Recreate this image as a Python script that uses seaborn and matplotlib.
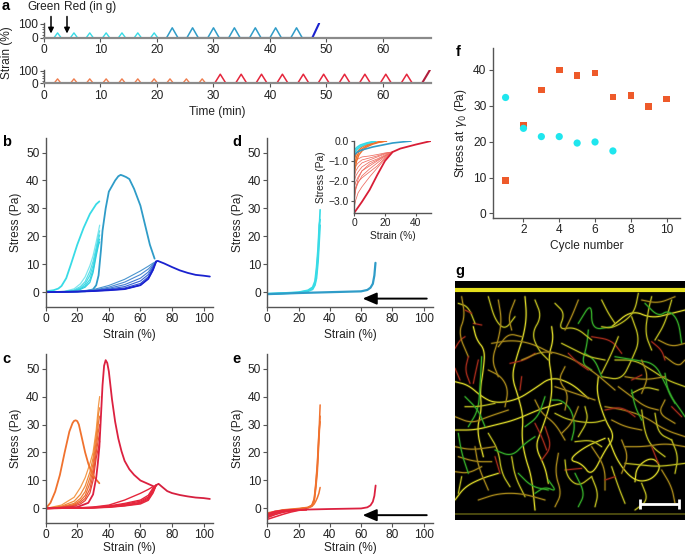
import numpy as np
import pandas as pd
import matplotlib
matplotlib.use("Agg")
import matplotlib.pyplot as plt
from matplotlib.ticker import MultipleLocator, FixedLocator
import seaborn as sns

sns.set_theme(style="ticks")
plt.rcParams["font.family"] = ["Liberation Sans", "DejaVu Sans"]
plt.rcParams["mathtext.fontset"] = "dejavusans"

W, H = 685, 554
FS = 8.6
CYAN, SKY, NAVY = "#38dbe6", "#2f9cc8", "#1a22cf"
ORANGE, RED, CRIM = "#f0722e", "#e5263c", "#b01e3c"
SPINE = "#555555"; TXT = "#222222"

# ---------------- panel a: protocol
a_green_small = [2.4, 5.3, 8.1, 11.0, 13.8, 16.6, 19.5]
a_green_big = [22.7, 26.3, 30.0, 33.7, 37.4, 41.0, 44.7]
a_red_small = [2.4, 5.3, 8.1, 11.0, 13.8, 16.6, 19.5, 22.3, 25.2, 28.0]
a_red_big = [31.2, 34.9, 38.5, 42.2, 45.9, 49.5, 53.2, 56.8, 60.5, 64.2]
a_green_end = ([47.5, 48.7], [0, 105])
a_red_end = ([66.9, 68.3], [0, 105])

# ---------------- panel b: stress-strain, green network
b_first_x = [0, 5, 8, 10, 13, 16, 20, 24, 28, 32, 34]
b_first_y = [0.3, 0.7, 1.3, 2.2, 5, 10, 17, 23, 28, 31.5, 32.5]
b_fam1_x = [0, 12, 18, 22, 25, 28, 30, 32, 33.5, 34.2]
b_fam1_ys = [[0, .3, 1.2, 3, 5.5, 9.5, 13, 18, 22, 24],
             [0, .2, .8, 2, 3.8, 7.5, 11, 16, 20.5, 22],
             [0, .2, .6, 1.5, 3, 6, 9.5, 15, 19, 20.5],
             [0, .1, .5, 1.2, 2.3, 4.5, 8, 14, 18, 19],
             [0, .1, .4, 1, 1.8, 3.5, 7, 13, 17, 18]]
b_fam1_cols = ["#7ee6ee", "#5adfe9", "#48dbe6", "#38d5e4", "#2fd0e0"]
b_peak_x = [0, 25, 30, 32, 33.5, 35, 36, 38, 40, 42, 44, 46, 47.5, 49, 51, 53, 56, 60, 63, 66, 69]
b_peak_y = [0, .3, 1, 2.5, 6, 15, 22, 30, 36, 38, 40, 41.5, 42, 41.7, 41.2, 40.5, 37, 31, 24, 17, 12]
b_fam2_x = [0, 20, 30, 40, 50, 60, 65, 68, 70]
b_fam2_ys = [[0, .3, .9, 2.4, 4.6, 7.6, 9.3, 10.4, 11],
             [0, .3, .7, 1.8, 3.6, 6.3, 8.3, 10, 11],
             [0, .2, .6, 1.4, 2.7, 5, 7.2, 9.6, 11],
             [0, .2, .5, 1.1, 2, 4, 6.3, 9.1, 11],
             [0, .2, .4, .9, 1.5, 3.1, 5.5, 8.6, 11],
             [0, .2, .4, .7, 1.1, 2.5, 4.8, 8, 11]]
b_fam2_cols = ["#4a95cf", "#4a88d0", "#3f78d2", "#3462d4", "#2a48d3", "#1a22cf"]
b_tail_x = [70, 71, 75, 80, 85, 90, 95, 100, 104]
b_tail_y = [11, 11.2, 10.3, 9, 7.8, 6.9, 6.2, 5.9, 5.6]

# ---------------- panel c: stress-strain, red network
c_first_x = [0, 3, 6, 9, 12, 15, 17, 18, 19, 20, 21, 23, 25, 27, 29, 31, 34]
c_first_y = [0, 2, 6, 12, 20, 27.5, 30.5, 31.3, 31.5, 31.2, 30, 25, 20, 16, 13, 11, 9]
c_fam1_x = [0, 10, 18, 22, 25, 28, 30, 32, 33.5, 34.2]
c_fam1_ys = [[0, 1.2, 4, 7.5, 11, 16, 20, 28, 37, 40],
             [0, .8, 2.6, 5, 8, 13, 18, 26, 34, 36],
             [0, .6, 1.8, 3.6, 6, 11, 16, 24, 31, 33],
             [0, .5, 1.4, 2.8, 4.6, 9, 14, 22, 28, 30],
             [0, .4, 1.1, 2.2, 3.6, 7, 12, 20, 25, 27],
             [0, .3, .8, 1.6, 2.8, 5.5, 10, 18, 22, 24]]
c_fam1_cols = ["#f39a4a", "#f08a3a", "#ef7d36", "#ee6e33", "#ea5a33", "#e84434"]
c_peak_x = [0, 20, 27, 30, 32, 33, 34, 35, 36, 37, 38, 39, 40, 42, 44, 46, 48, 50, 53, 56, 60, 64, 68]
c_peak_y = [0, .5, 2, 5, 11, 16, 22, 33, 44, 51, 53, 52, 49, 39, 31, 25, 20.5, 17, 14, 12, 10, 9, 8]
c_fam2_x = [0, 20, 30, 40, 50, 60, 65, 68, 70]
c_fam2_ys = [[0, .2, .5, 1.2, 3, 5.4, 6.8, 7.8, 8.3],
             [0, .2, .4, .9, 1.8, 3, 4.7, 7.3, 8.3],
             [0, .1, .3, .7, 1.5, 2.6, 4.1, 6.8, 8.3],
             [0, .1, .3, .6, 1.2, 2.2, 3.7, 6.3, 8.3],
             [0, .1, .2, .5, 1, 1.9, 3.3, 5.9, 8.3],
             [0, .1, .2, .4, .9, 1.6, 2.9, 5.5, 8.3]]
c_tail_x = [70, 71.5, 74, 77, 80, 85, 90, 95, 100, 104]
c_tail_y = [8.3, 8.8, 7.6, 6.2, 5.5, 4.8, 4.3, 3.9, 3.7, 3.4]

# ---------------- panel d: unloading-corrected curves (green)
d_low_x = [0, 10, 20, 26, 29, 30.5, 31.5, 32.5, 33.2, 33.8]
d_low_ys = [[-.6, -.4, -.1, .5, 1.4, 3, 7, 14, 22, 29.5],
            [-.7, -.5, -.2, .3, 1, 2.5, 5, 11, 18, 24],
            [-.5, -.3, 0, .7, 1.8, 4, 9, 16, 24, 26]]
d_high_x = [0, 20, 40, 60, 64, 66, 67.5, 68.5, 69.2]
d_high_y = [-.7, -.3, 0, .3, .8, 1.6, 3, 6, 10.5]
# ---------------- panel e
e_low_x = [0, 10, 20, 26, 28.5, 30, 31, 32, 33, 33.8]
e_low_ys = [[-2, -.6, -.2, .3, .9, 3, 8, 15, 26, 37],
            [-2.6, -.9, -.2, .3, 1, 2.6, 7, 13, 24, 33],
            [-1.6, -.5, 0, .4, 1.2, 3.5, 9, 16, 27, 31],
            [-3, -1.1, -.3, .2, .7, 1.6, 2.6, 3.8, 5.4, 7.5]]
e_red_x = [0, 5, 10, 15, 20, 25]
e_red_ys = [[-3.9, -3, -2.1, -1.3, -.7, -.4], [-3.3, -2.2, -1.4, -.9, -.6, -.4],
            [-2.8, -1.7, -1.1, -.8, -.5, -.4], [-2.4, -1.4, -.9, -.6, -.5, -.4],
            [-2, -1, -.7, -.5, -.4, -.4]]
e_high_x = [25, 40, 60, 64, 66, 67.5, 68.5, 69.3]
e_high_y = [-.4, -.2, 0, .4, 1.1, 2.4, 4.5, 8.2]

# ---------------- inset of d
ins_red_x = [0, 1, 2.5, 5, 10, 15, 20, 25]
ins_red_ys = [[-3.0, -2.4, -1.9, -1.5, -1.15, -.95, -.75, -.55],
              [-2.8, -2.4, -2.1, -1.75, -1.4, -1.1, -.8, -.55],
              [-2.6, -2.3, -2.05, -1.85, -1.55, -1.25, -.85, -.55],
              [-2.3, -2.05, -1.8, -1.5, -1.25, -1.0, -.75, -.55],
              [-2.0, -1.75, -1.55, -1.3, -1.05, -.9, -.7, -.55],
              [-1.8, -1.5, -1.3, -1.1, -.95, -.8, -.65, -.55],
              [-1.5, -1.25, -1.1, -.95, -.85, -.75, -.62, -.55],
              [-1.2, -1.0, -.9, -.8, -.75, -.68, -.6, -.55],
              [-3.3, -2.95, -2.6, -2.3, -1.8, -1.35, -.9, -.55]]
ins_bold_x = [0, 5, 10, 15, 20, 25, 30, 40, 50]
ins_bold_y = [-3.6, -3.05, -2.45, -1.7, -1.0, -.55, -.38, -.18, 0]
ins_cyan_x = [0, 2, 4, 8, 14]
ins_cyan_ys = [[-.6, -.4, -.28, -.14, 0], [-.45, -.3, -.2, -.1, 0]]
ins_blue_x = [0, 2, 5, 12, 25, 37]
ins_blue_y = [-.7, -.55, -.45, -.3, -.1, 0]
ins_or_x = [0, 1.5, 3, 5, 8, 12, 16, 21]
ins_or_ys = [[-1.6, -1.0, -.7, -.5, -.3, -.16, -.07, 0],
             [-1.2, -.8, -.55, -.4, -.24, -.12, -.05, 0],
             [-.9, -.6, -.45, -.3, -.18, -.1, -.04, 0]]

# ---------------- panel f
f_green_x = [1, 2, 3, 4, 5, 6, 7]
f_green_y = [32.3, 23.7, 21.4, 21.4, 19.6, 19.9, 17.4]
f_red_x = [1, 2, 3, 4, 5, 6, 7, 8, 9, 10]
f_red_y = [9.1, 24.6, 34.4, 40.0, 38.4, 39.1, 32.4, 32.9, 29.8, 31.9]

g_y = "#b5b41f"; g_l = "#d6d228"; g_g = "#33a828"; g_r = "#a02a1a"; g_o = "#a2841a"
g_strands = [
 (g_l, [(85,200),(95,240),(120,270),(115,330),(105,390),(110,450),(95,510),(115,590)]),
 (g_l, [(30,365),(70,375),(110,410),(150,430),(215,420),(270,385),(320,350),(380,370),(430,415)]),
 (g_l, [(240,110),(245,170),(235,230),(215,290),(200,350),(220,410),(235,470),(230,530),(240,590),(260,650),(270,750)]),
 (g_l, [(320,200),(325,240),(310,290),(320,350),(320,420),(290,510),(270,560),(300,620),(310,670)]),
 (g_l, [(30,720),(60,680),(110,655),(160,640)]),
 (g_l, [(30,510),(90,510),(150,495),(210,480),(290,445),(350,430)]),
 (g_l, [(460,350),(455,400),(480,480),(510,530),(480,570),(440,650),(410,610),(370,600),(420,560),(480,535)]),
 (g_y, [(510,300),(570,300),(620,330),(665,360),(720,380)]),
 (g_l, [(490,535),(520,610),(570,665),(620,660),(650,620),(620,590),(575,620),(570,665)]),
 (g_l, [(500,200),(560,150),(620,175),(680,160),(720,150)]),
 (g_g, [(400,190),(440,125),(440,210),(500,200)]),
 (g_y, [(560,170),(585,240),(560,300),(530,360),(470,350)]),
 (g_g, [(510,290),(570,300),(630,310),(660,370),(690,430)]),
 (g_r, [(440,230),(500,240),(530,280)]),
 (g_r, [(620,245),(650,270),(660,300)]),
 (g_r, [(30,265),(45,240),(60,230)]),
 (g_r, [(85,190),(110,195)]),
 (g_r, [(195,310),(240,300),(270,280)]),
 (g_r, [(100,300),(90,345),(85,370)]),
 (g_r, [(30,325),(45,360)]),
 (g_g, [(420,280),(450,300),(470,350)]),
 (g_g, [(430,210),(425,260),(410,310),(440,330)]),
 (g_y, [(130,110),(150,180),(180,210),(210,170)]),
 (g_y, [(40,130),(70,140),(90,190)]),
 (g_g, [(110,290),(105,380),(100,450),(70,500)]),
 (g_o, [(230,300),(300,270),(370,290),(440,330),(510,390)]),
 (g_y, [(330,130),(360,160),(340,210),(390,200),(440,240)]),
 (g_o, [(140,250),(200,240),(260,250),(320,280)]),
 (g_y, [(620,110),(610,150),(600,220),(620,270)]),
 (g_y, [(680,120),(660,190),(630,240)]),
 (g_g, [(660,340),(670,400),(700,440),(720,470)]),
 (g_o, [(480,440),(540,450),(600,470),(660,510),(720,530)]),
 (g_y, [(590,450),(600,520),(620,560),(660,590)]),
 (g_y, [(630,460),(640,520),(680,540)]),
 (g_r, [(480,450),(530,440),(570,470)]),
 (g_r, [(620,560),(640,610)]),
 (g_r, [(360,630),(410,625)]),
 (g_r, [(150,590),(165,640)]),
 (g_r, [(300,500),(320,560),(290,600)]),
 (g_r, [(230,350),(225,390)]),
 (g_y, [(130,520),(160,570),(170,640),(195,680)]),
 (g_y, [(200,590),(210,650),(240,710)]),
 (g_g, [(150,570),(200,590),(240,550),(270,530)]),
 (g_y, [(330,460),(370,480),(440,490),(480,480)]),
 (g_o, [(30,560),(80,570),(150,560)]),
 (g_o, [(30,635),(70,640),(110,620)]),
 (g_o, [(40,590),(90,605),(140,605)]),
 (g_g, [(40,520),(50,580),(70,640)]),
 (g_g, [(310,660),(335,695),(300,680),(270,700)]),
 (g_y, [(360,600),(365,650),(400,680),(440,650)]),
 (g_y, [(440,650),(460,700),(450,740)]),
 (g_o, [(540,560),(600,560),(660,550),(720,560)]),
 (g_y, [(540,610),(590,615),(640,620),(720,610)]),
 (g_o, [(650,630),(680,680),(690,730)]),
 (g_y, [(590,670),(610,720),(570,750)]),
 (g_o, [(100,720),(160,700),(230,700),(300,720)]),
 (g_g, [(390,640),(420,700),(400,740)]),
 (g_y, [(500,620),(520,680),(540,730)]),
 (g_o, [(330,380),(390,400),(450,420)]),
 (g_g, [(320,420),(350,420),(380,450),(390,500),(380,540)]),
 (g_y, [(390,545),(440,540),(470,560)]),
 (g_y, [(60,440),(100,440),(150,430)]),
 (g_o, [(30,470),(80,490),(130,470),(190,450)]),
 (g_g, [(60,410),(100,450),(120,500)]),
 (g_y, [(270,120),(290,170),(260,220),(280,270),(310,300)]),
 (g_y, [(580,100),(570,150),(545,180),(500,205),(470,200)]),
 (g_o, [(160,120),(170,180),(160,240),(140,300),(160,350)]),
 (g_y, [(520,230),(500,280),(470,340)]),
 (g_g, [(600,130),(640,170),(670,150),(700,180),(710,250)]),
 (g_o, [(540,350),(600,360),(660,350)]),
 (g_y, [(560,400),(600,380),(640,390)]),
 (g_y, [(420,440),(430,480),(400,530)]),
 (g_o, [(230,230),(190,220),(160,260)]),
 (g_o, [(50,110),(60,170),(40,220),(70,290)]),
 (g_r, [(70,290),(60,330),(75,370)]),
 (g_o, [(130,330),(170,350),(190,390),(180,440)]),
 (g_y, [(350,250),(390,270),(430,290),(480,300)]),
 (g_r, [(370,280),(400,310),(430,330)]),
 (g_o, [(360,320),(340,360),(370,400),(360,450)]),
 (g_o, [(270,420),(290,460),(330,490),(360,540)]),
 (g_g, [(300,410),(280,470),(240,500)]),
 (g_r, [(270,490),(290,530),(305,570)]),
 (g_o, [(400,440),(380,490),(350,520)]),
 (g_o, [(520,380),(560,410),(600,440),(640,450)]),
 (g_g, [(560,390),(570,440),(590,480)]),
 (g_o, [(660,420),(640,460),(690,490)]),
 (g_r, [(680,440),(710,470)]),
 (g_o, [(500,480),(540,500),(590,510)]),
 (g_o, [(530,540),(550,590),(530,640)]),
 (g_y, [(680,540),(700,590),(690,640)]),
 (g_o, [(90,560),(100,620),(130,690)]),
 (g_y, [(50,650),(40,700)]),
 (g_g, [(220,640),(260,680),(310,690)]),
 (g_o, [(340,580),(330,640),(350,700),(330,740)]),
 (g_o, [(440,560),(480,620),(480,690)]),
 (g_r, [(480,660),(510,650)]),
 (g_o, [(590,120),(640,130),(690,110)]),
 (g_r, [(60,150),(80,160)]),
 (g_o, [(210,120),(190,170),(200,210)]),
 (g_o, [(400,120),(380,170),(360,210)]),
 (g_y, [(470,120),(490,160),(510,190)]),
 (g_o, [(640,240),(680,260),(720,250)]),
 (g_o, [(660,290),(700,320),(720,300)]),
 (g_o, [(590,300),(610,350),(590,400)]),
 (g_r, [(560,360),(590,345)]),
]
g_band_x = [30, 720]
g_band_top = [90, 90]
g_band_bot = [761, 761]
g_bar_x = [584, 702]
g_bar_y = [733, 733]


def rect(l, t, r, b):
    return [l / W, 1 - b / H, (r - l) / W, (b - t) / H]


fig = plt.figure(figsize=(W / 100, H / 100), dpi=100, facecolor="white")


def style(ax, fs=FS, tl=3):
    sns.despine(ax=ax)
    ax.patch.set_alpha(0)
    for s in ("left", "bottom"):
        ax.spines[s].set_color(SPINE)
        ax.spines[s].set_linewidth(1.0)
    ax.tick_params(labelsize=fs, colors=TXT, length=tl, width=.8, pad=1.5, color=SPINE)


def curve(ax, x, y, color, lw=1.0):
    sns.lineplot(x=x, y=y, sort=False, estimator=None, color=color, linewidth=lw,
                 ax=ax, legend=False, solid_capstyle="round")


def triangles(peaks, height, hw, start, end):
    t, s = [start], [0]
    for p in peaks:
        t += [p - hw, p, p + hw]
        s += [0, height, 0]
    t.append(end); s.append(0)
    return t, s


def rounded(pts, n=3):
    """Corner-cut a traced fibre so it draws as a soft curve."""
    p = np.asarray(pts, float)
    for _ in range(n):
        q = np.empty((2 * len(p), 2))
        q[0::2] = .75 * p + .25 * np.roll(p, -1, axis=0)
        q[1::2] = .25 * p + .75 * np.roll(p, -1, axis=0)
        p = np.vstack([p[:1], q[:-2], p[-1:]])
    return p


# ---- a
ax_a1 = fig.add_axes(rect(44, 23.0, 431, 37.7))
ax_a2 = fig.add_axes(rect(44, 69.8, 431, 83.3))
t, s = triangles(a_green_small, 35, .62, 0, 21.8); curve(ax_a1, t, s, CYAN, 1.0)
t, s = triangles(a_green_big, 72, 1.0, 21.8, 47.5); curve(ax_a1, t, s, SKY, 1.1)
curve(ax_a1, a_green_end[0], a_green_end[1], NAVY, 1.5)
t, s = triangles(a_red_small, 35, .62, 0, 30.2); curve(ax_a2, t, s, "#ef7d4e", 1.0)
t, s = triangles(a_red_big, 72, 1.0, 30.2, 66.9); curve(ax_a2, t, s, RED, 1.1)
curve(ax_a2, a_red_end[0], a_red_end[1], CRIM, 1.5)
for ax in (ax_a1, ax_a2):
    style(ax)
    ax.set_xlim(0, 68.5); ax.set_ylim(0, 107)
    ax.xaxis.set_major_locator(MultipleLocator(10))
    ax.set_yticks([0, 100])
    ax.yaxis.set_minor_locator(MultipleLocator(20))
    ax.tick_params(axis="y", which="minor", length=1.5, width=.6, color=SPINE)
    ax.spines["bottom"].set_color("#8a8a8a"); ax.spines["bottom"].set_linewidth(1.6)
    ax.set_xlabel(""); ax.set_ylabel("")
fig.text(7 / W, 1 - 53 / H, "Strain (%)", rotation=90, ha="center", va="center", fontsize=FS, color=TXT)
fig.text(217 / W, 1 - 112 / H, "Time (min)", ha="center", va="center", fontsize=FS, color=TXT)
fig.text(27 / W, 1 - 10 / H, "Green", ha="left", va="baseline", fontsize=FS, color=TXT)
fig.text(64 / W, 1 - 10 / H, "Red (in g)", ha="left", va="baseline", fontsize=FS, color=TXT)
for px in (51, 67):
    ax_a1.annotate("", xy=(px / W, 1 - 33.5 / H), xytext=(px / W, 1 - 16.5 / H), xycoords="figure fraction",
                   textcoords="figure fraction",
                   arrowprops=dict(arrowstyle="-|>", color="black", lw=1.1, mutation_scale=8, shrinkA=0, shrinkB=0))

# ---- b, c, d, e frames
ax_b = fig.add_axes(rect(45.7, 138, 213, 306.7))
ax_c = fig.add_axes(rect(45.7, 354, 213, 523))
ax_d = fig.add_axes(rect(267.3, 138, 433, 306.7))
ax_e = fig.add_axes(rect(267.3, 354, 433, 523))
for ax, pad in ((ax_b, 3), (ax_c, 0.5), (ax_d, 3), (ax_e, 0.5)):
    style(ax)
    ax.set_xlim(0, 106); ax.set_ylim(-5.2, 55.2)
    ax.set_yticks(range(0, 51, 10)); ax.set_xticks(range(0, 101, 20))
    ax.set_xlabel("Strain (%)", fontsize=FS, color=TXT, labelpad=pad)
    ax.set_ylabel("Stress (Pa)", fontsize=FS, color=TXT, labelpad=3)

for ys, c in zip(b_fam1_ys, b_fam1_cols):
    curve(ax_b, b_fam1_x, ys, c, .9)
curve(ax_b, b_first_x, b_first_y, CYAN, 1.3)
curve(ax_b, b_peak_x, b_peak_y, SKY, 1.3)
for ys, c in zip(b_fam2_ys, b_fam2_cols):
    curve(ax_b, b_fam2_x, ys, c, .8)
curve(ax_b, b_fam2_x, b_fam2_ys[-1], NAVY, 1.3)
curve(ax_b, b_tail_x, b_tail_y, NAVY, 1.3)

for ys, c in zip(c_fam1_ys, c_fam1_cols):
    curve(ax_c, c_fam1_x, ys, c, .9)
curve(ax_c, c_first_x, c_first_y, ORANGE, 1.3)
curve(ax_c, c_peak_x, c_peak_y, "#dc2140", 1.3)
for ys in c_fam2_ys:
    curve(ax_c, c_fam2_x, ys, RED, 1.0)
curve(ax_c, c_tail_x, c_tail_y, "#d6203f", 1.3)

for ys in d_low_ys:
    curve(ax_d, d_low_x, ys, CYAN, 1.2)
curve(ax_d, d_high_x, d_high_y, SKY, 1.6)
for ys in e_low_ys:
    curve(ax_e, e_low_x, ys, ORANGE, 1.1)
for ys in e_red_ys:
    curve(ax_e, e_red_x, ys, RED, 1.1)
curve(ax_e, e_high_x, e_high_y, "#dc2140", 1.3)
for ax, yy in ((ax_d, -2.3), (ax_e, -2.4)):
    ax.annotate("", xy=(61, yy), xytext=(102, yy),
                arrowprops=dict(arrowstyle="-|>,head_length=.7,head_width=.3", color="black", lw=1.4,
                                mutation_scale=12, shrinkA=0, shrinkB=0))

# ---- inset
ax_i = fig.add_axes(rect(354.3, 141, 431, 212.7))
style(ax_i, fs=7.4, tl=2.5)
for ys in ins_red_ys:
    curve(ax_i, ins_red_x, ys, "#ee6a5e", .55)
curve(ax_i, ins_bold_x, ins_bold_y, "#d81e36", 1.3)
for ys in ins_or_ys:
    curve(ax_i, ins_or_x, ys, ORANGE, 1.0)
for ys in ins_cyan_ys:
    curve(ax_i, ins_cyan_x, ys, CYAN, 1.2)
curve(ax_i, ins_blue_x, ins_blue_y, SKY, 1.2)
ax_i.set_xlim(0, 50); ax_i.set_ylim(-3.6, 0)
ax_i.set_xticks([0, 20, 40]); ax_i.set_yticks([0, -1, -2, -3])
ax_i.set_yticklabels(["0.0", "\u22121.0", "\u22122.0", "\u22123.0"])
ax_i.set_xlabel("Strain (%)", fontsize=7.4, color=TXT, labelpad=2)
ax_i.set_ylabel("Stress (Pa)", fontsize=7.4, color=TXT, labelpad=2)

# ---- f
ax_f = fig.add_axes(rect(492.7, 48.3, 680, 217.7))
style(ax_f)
sns.scatterplot(x=f_red_x, y=f_red_y, marker="s", s=22, color="#ee5a2a", edgecolor="none", ax=ax_f, legend=False)
sns.scatterplot(x=f_green_x, y=f_green_y, marker="o", s=27, color="#1fe6ee", edgecolor="none", ax=ax_f, legend=False)
ax_f.set_xlim(0.28, 10.75); ax_f.set_ylim(-1.2, 46)
ax_f.set_xticks(range(2, 11, 2)); ax_f.set_yticks(range(0, 41, 10))
ax_f.set_xlabel("Cycle number", fontsize=FS, color=TXT, labelpad=3)
ax_f.set_ylabel("Stress at $\\gamma_0$ (Pa)", fontsize=FS, color=TXT, labelpad=3)

# ---- g
ax_g = fig.add_axes(rect(455, 280.7, 685, 520))
ax_g.set_facecolor("black")
for c, pts in g_strands:
    xy = rounded(pts)
    ax_g.plot(xy[:, 0], xy[:, 1], color=c, lw=2.0, alpha=.22, solid_capstyle="round")
    ax_g.plot(xy[:, 0], xy[:, 1], color=c, lw=.8, solid_capstyle="round")
ax_g.plot(g_band_x, g_band_top, color="#e4df1c", lw=3.0)
ax_g.plot(g_band_x, g_band_bot, color="#4a480f", lw=1.4)
ax_g.plot(g_bar_x, g_bar_y, color="white", lw=2, solid_capstyle="butt")
for bx in g_bar_x:
    ax_g.plot([bx, bx], [718, 748], color="white", lw=2, solid_capstyle="butt")
ax_g.set_xlim(30, 720); ax_g.set_ylim(780, 62)
ax_g.set_xticks([]); ax_g.set_yticks([])
for s in ax_g.spines.values():
    s.set_visible(False)

# ---- panel letters
for letter, px, py in [("a", 2, 6), ("b", 2, 142), ("c", 2, 359), ("d", 232, 142), ("e", 232, 359),
                       ("f", 456, 52), ("g", 455, 271)]:
    fig.text(px / W, 1 - py / H, letter, fontsize=10.5, fontweight="bold", ha="left", va="center", color="black")

fig.savefig("out.png", dpi=100, facecolor="white")
